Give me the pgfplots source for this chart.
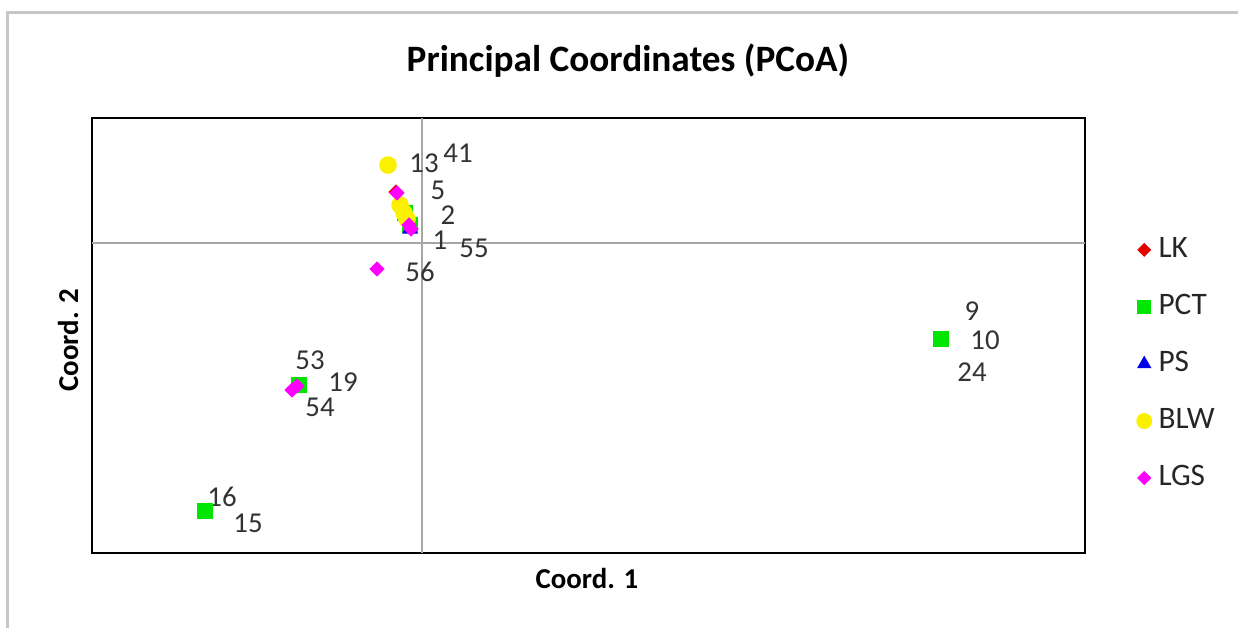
\documentclass[border=0pt]{standalone}
\usepackage{pgfplots}
\pgfplotsset{compat=1.18}
\usepackage{fontspec}
\setmainfont{Carlito}
\definecolor{lkred}{RGB}{230,0,0}
\definecolor{pctgreen}{RGB}{0,230,0}
\definecolor{psblue}{RGB}{0,0,230}
\definecolor{blwyellow}{RGB}{250,240,0}
\definecolor{lgsmag}{RGB}{255,0,255}
\begin{document}
\begin{tikzpicture}
\path[use as bounding box] (-9.2mm,-7.5mm) rectangle (114.6mm,55.3mm);
\draw[gray!45, line width=0.3mm] (-8.4mm,-7.5mm) -- (-8.4mm,54.1mm) -- (114.6mm,54.1mm);
\begin{axis}[
  at={(0,0)}, anchor=south west,
  scale only axis, width=99.3mm, height=43.5mm,
  xmin=-3.30, xmax=6.63, ymin=-3.10, ymax=1.25,
  ticks=none,
  axis line style={black, line width=0.6pt},
  clip=false,
  legend style={draw=none, fill=none, font=\fontsize{8.9}{9.5}\selectfont,
    at={(1.041,0.76)}, anchor=north west, row sep=1.75mm,
    legend cell align=left, text=black!85},
  legend image post style={scale=0.9},
]
\draw[gray!70, line width=0.4pt] (axis cs:0,-3.10) -- (axis cs:0,1.25);
\draw[gray!70, line width=0.4pt] (axis cs:-3.30,0) -- (axis cs:6.63,0);
\addplot[only marks, mark=square*, mark options={rotate=45}, mark size=1.35pt, color=lkred] coordinates {(-0.26,0.51) (-0.14,0.20)};
\addlegendentry{LK}
\addplot[only marks, mark=square*, mark size=2pt, color=pctgreen] coordinates {(5.19,-0.96) (-1.23,-1.42) (-2.17,-2.68) (-0.12,0.18) (-0.17,0.30)};
\addlegendentry{PCT}
\addplot[only marks, mark=triangle*, mark size=2.2pt, color=psblue] coordinates {(-0.12,0.14)};
\addlegendentry{PS}
\addplot[only marks, mark=*, mark size=2.3pt, color=blwyellow] coordinates {(-0.34,0.78) (-0.22,0.38) (-0.18,0.30) (-0.15,0.24)};
\addlegendentry{BLW}
\addplot[only marks, mark=square*, mark options={rotate=45}, mark size=1.35pt, color=lgsmag] coordinates {(-0.25,0.50) (-0.13,0.18) (-0.11,0.14) (-0.45,-0.26) (-1.30,-1.47) (-1.25,-1.43)};
\addlegendentry{LGS}
\begin{scope}[every node/.style={font=\fontsize{8.2}{9}\selectfont, text=black!80, inner sep=0pt}]
\node at (axis cs:0.02,0.80) {13};
\node at (axis cs:0.36,0.90) {41};
\node at (axis cs:0.16,0.53) {5};
\node at (axis cs:0.26,0.28) {2};
\node at (axis cs:0.18,0.03) {1};
\node at (axis cs:0.52,-0.05) {55};
\node at (axis cs:-0.02,-0.29) {56};
\node at (axis cs:5.50,-0.68) {9};
\node at (axis cs:5.63,-0.97) {10};
\node at (axis cs:5.50,-1.29) {24};
\node at (axis cs:-1.12,-1.17) {53};
\node at (axis cs:-0.79,-1.39) {19};
\node at (axis cs:-1.02,-1.64) {54};
\node at (axis cs:-2.00,-2.54) {16};
\node at (axis cs:-1.74,-2.80) {15};
\end{scope}
\end{axis}
\node[font=\bfseries\fontsize{10.6}{12}\selectfont] at (53.6mm,49.2mm) {Principal Coordinates (PCoA)};
\node[font=\bfseries\fontsize{8.2}{10}\selectfont] at (49.5mm,-2.5mm) {Coord. 1};
\node[font=\bfseries\fontsize{8.2}{10}\selectfont, rotate=90] at (-2.4mm,21.3mm) {Coord. 2};
\end{tikzpicture}
\end{document}
